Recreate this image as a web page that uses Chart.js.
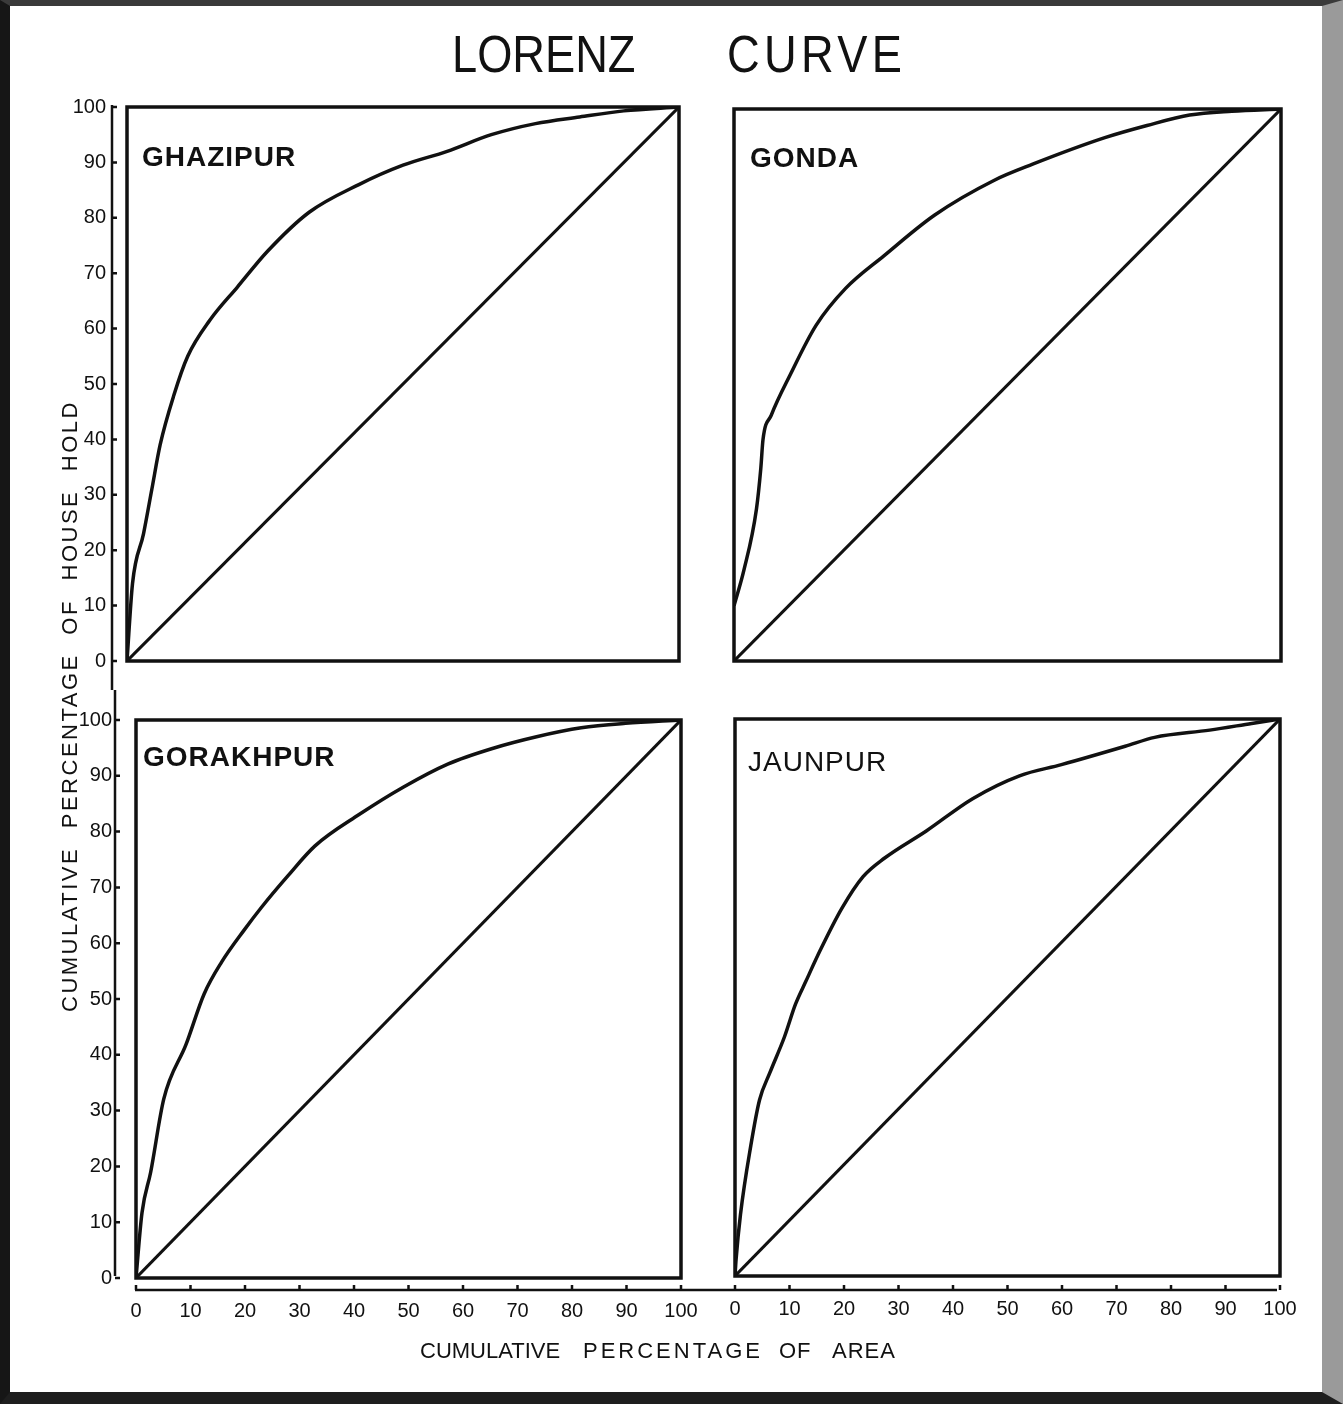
<!DOCTYPE html>
<html>
<head>
<meta charset="utf-8">
<script src="https://cdn.jsdelivr.net/npm/chart.js@4.4.0/dist/chart.umd.min.js"></script>
<style>
  html, body { margin: 0; padding: 0; background: #fff; }
  body { width: 1343px; height: 1404px; position: relative; overflow: hidden;
         font-family: "Liberation Sans", Arial, sans-serif; color: #111; }
  .frame { position: absolute; left: 0; top: 0; width: 1343px; height: 1404px; box-sizing: border-box;
           border-left: 10px solid #161616; border-top: 6px solid #3a3a3a;
           border-bottom: 12px solid #1e1e1e; border-right: 21px solid #9a9a9a; }
  canvas { position: absolute; }
  .txt { position: absolute; white-space: nowrap; line-height: 1; }
  .title { font-size: 52px; transform: scaleX(0.87); transform-origin: left top; }
  .place { font-size: 28px; font-weight: bold; letter-spacing: 1px; }
  .axis { font-size: 22px; }
</style>
</head>
<body>
<div class="frame"></div>

<div class="txt title" style="left:452px; top:28px;">LORENZ</div>
<div class="txt title" style="left:727px; top:28px; letter-spacing:5px;">CURVE</div>

<canvas id="tl" width="660" height="600" style="left:40px; top:90px;"></canvas>
<canvas id="tr" width="625" height="600" style="left:705px; top:90px;"></canvas>
<canvas id="bl" width="668" height="650" style="left:40px; top:690px;"></canvas>
<canvas id="br" width="627" height="650" style="left:708px; top:690px;"></canvas>

<div class="txt place" style="left:142px; top:143px;">GHAZIPUR</div>
<div class="txt place" style="left:750px; top:144px;">GONDA</div>
<div class="txt place" style="left:143px; top:743px;">GORAKHPUR</div>
<div class="txt place" style="left:748px; top:748px; font-weight:normal;">JAUNPUR</div>

<div class="txt axis" style="left:420px; top:1340px;">CUMULATIVE</div>
<div class="txt axis" style="left:583px; top:1340px; letter-spacing:3px;">PERCENTAGE</div>
<div class="txt axis" style="left:779px; top:1340px; letter-spacing:1px;">OF</div>
<div class="txt axis" style="left:832px; top:1340px; letter-spacing:1px;">AREA</div>

<div class="txt axis" style="left:-240px; top:695px; width:620px; text-align:center; letter-spacing:2.5px; word-spacing:10px; transform:rotate(-90deg);">CUMULATIVE PERCENTAGE OF HOUSE HOLD</div>

<script>
const areaTicks = [0, 10, 20, 30, 40, 50, 60, 70, 80, 90, 100];
const equality = [0, 100];

const ghazipurArea  = [0, 1, 3, 4.5, 6, 8.5, 11, 15, 20, 25.5, 33, 42, 50, 58, 66, 74, 82, 90, 100];
const ghazipurHouse = [0, 14, 23, 31, 39, 48, 55, 61.5, 67.5, 74, 81, 86, 89.5, 92, 95, 97, 98.2, 99.3, 100];

const gondaArea  = [0, 1.8, 4.1, 4.9, 5.3, 6.8, 10.3, 15, 20.4, 27.4, 36.7, 47.6, 54.6, 67.8, 75.5, 83.3, 91, 100];
const gondaHouse = [10, 16.4, 27.5, 34.9, 40.1, 44.5, 51.9, 60.8, 67.5, 73.4, 80.8, 87.1, 90, 94.8, 97, 98.9, 99.6, 100];

const gorakhpurArea  = [0, 1.1, 2.7, 5.1, 9.2, 12.5, 15.7, 19.8, 23, 27.9, 32.8, 41, 49.1, 57.2, 65.4, 73.5, 81.7, 89.8, 100];
const gorakhpurHouse = [0, 11.7, 19, 32.1, 41.9, 50.9, 56.6, 62.3, 66.4, 72.1, 77.4, 83.1, 88, 92.1, 94.9, 97, 98.6, 99.4, 100];

const jaunpurArea  = [0, 0.2, 1, 2.9, 4.5, 6.4, 9.1, 11.1, 13, 15.7, 19.6, 23.5, 27.4, 35.1, 43.6, 52.2, 59.9, 71.6, 77, 87.1, 94.8, 100];
const jaunpurHouse = [0, 3, 11, 23.4, 31.6, 36.5, 43, 48.8, 52.9, 58.6, 66, 71.7, 75, 79.9, 85.7, 89.8, 91.8, 95.1, 96.7, 98, 99.2, 100];

const INK = '#111';

// box round the plot area + the loose axis lines drawn off to the side
const framePlugin = {
  id: 'frame',
  afterDraw(chart, args, o) {
    const { ctx, chartArea: a, scales } = chart;
    ctx.save();
    ctx.strokeStyle = INK;
    ctx.lineWidth = 3.5;
    ctx.strokeRect(a.left, a.top, a.right - a.left, a.bottom - a.top);

    ctx.lineWidth = 2.5;
    if (o.yGap) {
      const x = a.left - o.yGap;
      ctx.beginPath();
      ctx.moveTo(x, o.yDown ? a.top - 2 : 0);
      ctx.lineTo(x, o.yDown ? chart.height : a.bottom - 2);
      areaTicks.forEach(v => {
        const y = scales.y.getPixelForValue(v);
        ctx.moveTo(x, y);
        ctx.lineTo(x + 5, y);
      });
      ctx.stroke();
    }
    if (o.xGap) {
      const y = a.bottom + o.xGap;
      ctx.beginPath();
      ctx.moveTo(o.xRight ? a.left - 1 : 0, y);
      ctx.lineTo(o.xRight ? chart.width : a.right - 3, y);
      areaTicks.forEach(v => {
        const x = scales.x.getPixelForValue(v);
        ctx.moveTo(x, y);
        ctx.lineTo(x, y - 5);
      });
      ctx.stroke();
    }
    ctx.restore();
  }
};

function lorenzChart(id, area, house, o) {
  const curve = area.map((x, i) => ({ x: x, y: house[i] }));
  const diag = equality.map(v => ({ x: v, y: v }));
  return new Chart(document.getElementById(id), {
    type: 'line',
    data: {
      datasets: [
        { data: curve, borderColor: INK, borderWidth: 3.5, pointRadius: 0, cubicInterpolationMode: 'monotone' },
        { data: diag, borderColor: INK, borderWidth: 3, pointRadius: 0 }
      ]
    },
    options: {
      responsive: false,
      animation: false,
      events: [],
      layout: { padding: o.padding },
      plugins: {
        legend: { display: false },
        tooltip: { enabled: false },
        frame: o.frame
      },
      scales: {
        x: {
          type: 'linear', min: 0, max: 100,
          display: o.showX,
          afterBuildTicks: s => { s.ticks = areaTicks.map(v => ({ value: v })); },
          afterFit: s => { s.height = o.xH || 0; s.paddingLeft = 0; s.paddingRight = 0; },
          grid: { display: false, drawTicks: false },
          border: { display: false },
          ticks: { padding: 21, color: INK, maxRotation: 0, autoSkip: false,
                   font: { family: 'Liberation Sans', size: 20 } }
        },
        y: {
          type: 'linear', min: 0, max: 100,
          display: o.showY,
          afterBuildTicks: s => { s.ticks = areaTicks.map(v => ({ value: v })); },
          afterFit: s => { s.width = o.yW || 0; s.paddingTop = 0; s.paddingBottom = 0; },
          grid: { display: false, drawTicks: false },
          border: { display: false },
          ticks: { padding: o.yPad || 21, color: INK, autoSkip: false,
                   font: { family: 'Liberation Sans', size: 20 } }
        }
      }
    },
    plugins: [framePlugin]
  });
}

lorenzChart('tl', ghazipurArea, ghazipurHouse, {
  padding: { top: 17, right: 21, bottom: 29, left: 0 },
  showY: true, showX: false, yW: 87, yPad: 21,
  frame: { yGap: 15, yDown: true }
});
lorenzChart('tr', gondaArea, gondaHouse, {
  padding: { top: 19, right: 49, bottom: 29, left: 29 },
  showY: false, showX: false,
  frame: {}
});
lorenzChart('bl', gorakhpurArea, gorakhpurHouse, {
  padding: { top: 30, right: 27, bottom: 0, left: 0 },
  showY: true, showX: true, yW: 96, xH: 62, yPad: 24,
  frame: { yGap: 21, yDown: false, xGap: 12, xRight: true }
});
lorenzChart('br', jaunpurArea, jaunpurHouse, {
  padding: { top: 29, right: 55, bottom: 0, left: 27 },
  showY: false, showX: true, xH: 64,
  frame: { xGap: 14, xRight: false }
});
</script>
</body>
</html>
